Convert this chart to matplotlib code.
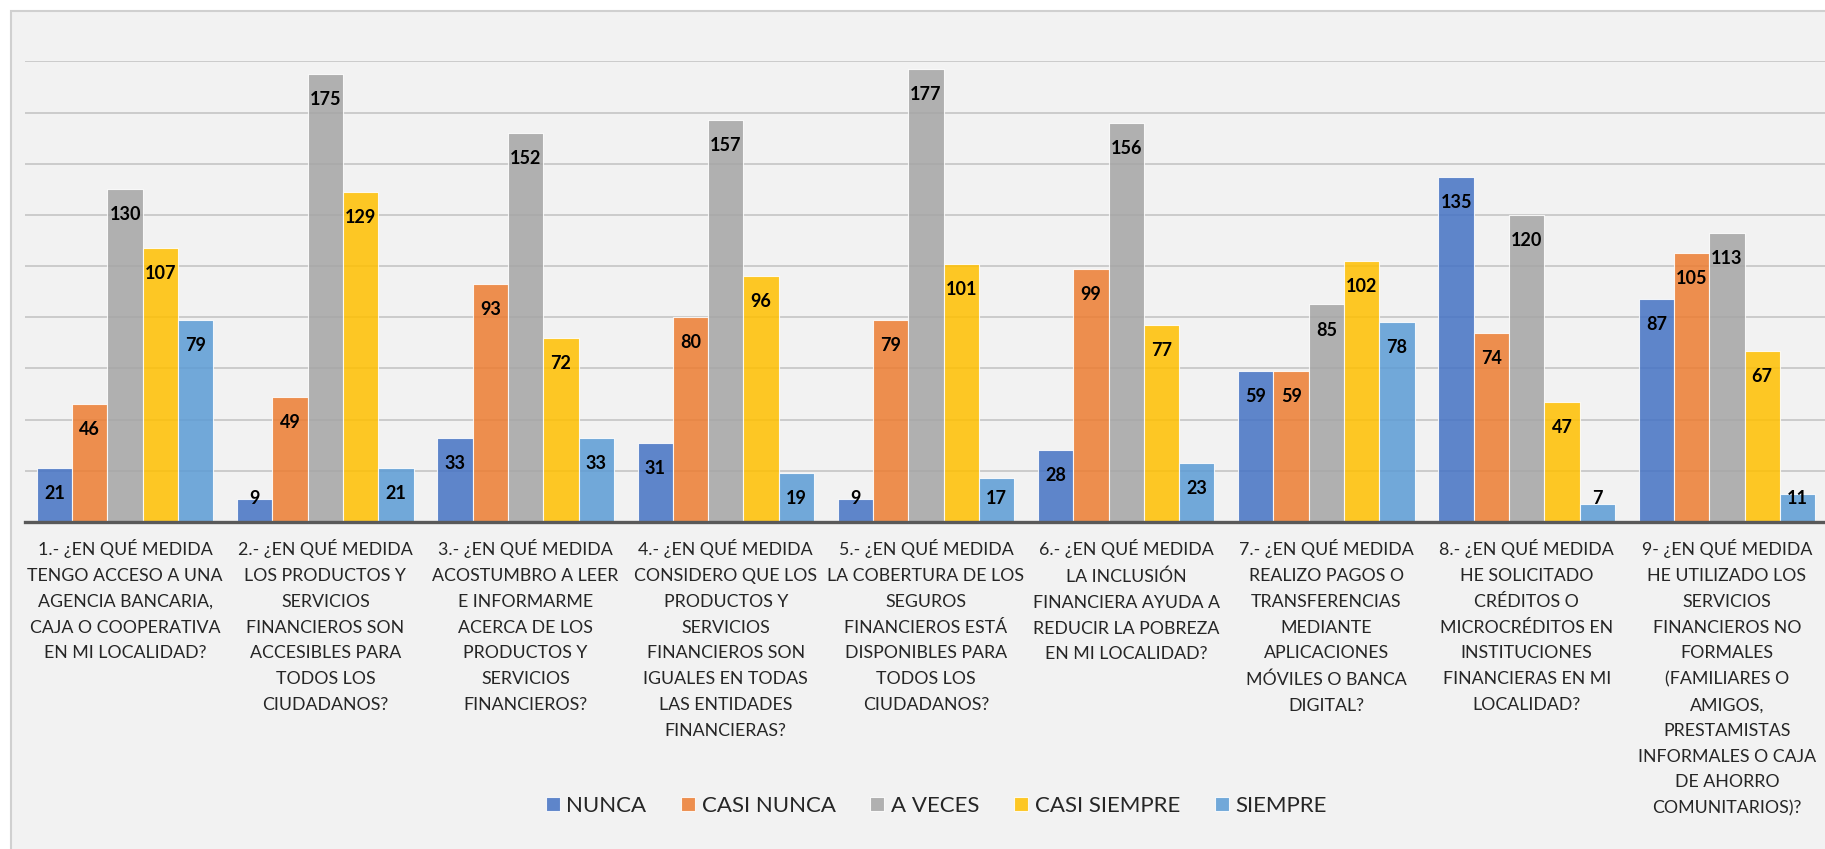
import numpy as np
import matplotlib.pyplot as plt
from matplotlib.patches import Rectangle
from matplotlib.transforms import blended_transform_factory

# categories (axis labels, already wrapped as in the original)
preguntas = [
    '1.- ¿EN QUÉ MEDIDA\nTENGO ACCESO A UNA\nAGENCIA BANCARIA,\nCAJA O COOPERATIVA\nEN MI LOCALIDAD?',
    '2.- ¿EN QUÉ MEDIDA\nLOS PRODUCTOS Y\nSERVICIOS\nFINANCIEROS SON\nACCESIBLES PARA\nTODOS LOS\nCIUDADANOS?',
    '3.- ¿EN QUÉ MEDIDA\nACOSTUMBRO A LEER\nE INFORMARME\nACERCA DE LOS\nPRODUCTOS Y\nSERVICIOS\nFINANCIEROS?',
    '4.- ¿EN QUÉ MEDIDA\nCONSIDERO QUE LOS\nPRODUCTOS Y\nSERVICIOS\nFINANCIEROS SON\nIGUALES EN TODAS\nLAS ENTIDADES\nFINANCIERAS?',
    '5.- ¿EN QUÉ MEDIDA\nLA COBERTURA DE LOS\nSEGUROS\nFINANCIEROS ESTÁ\nDISPONIBLES PARA\nTODOS LOS\nCIUDADANOS?',
    '6.- ¿EN QUÉ MEDIDA\nLA INCLUSIÓN\nFINANCIERA AYUDA A\nREDUCIR LA POBREZA\nEN MI LOCALIDAD?',
    '7.- ¿EN QUÉ MEDIDA\nREALIZO PAGOS O\nTRANSFERENCIAS\nMEDIANTE\nAPLICACIONES\nMÓVILES O BANCA\nDIGITAL?',
    '8.- ¿EN QUÉ MEDIDA\nHE SOLICITADO\nCRÉDITOS O\nMICROCRÉDITOS EN\nINSTITUCIONES\nFINANCIERAS EN MI\nLOCALIDAD?',
    '9- ¿EN QUÉ MEDIDA\nHE UTILIZADO LOS\nSERVICIOS\nFINANCIEROS NO\nFORMALES\n(FAMILIARES O\nAMIGOS,\nPRESTAMISTAS\nINFORMALES O CAJA\nDE AHORRO\nCOMUNITARIOS)?',
]

nunca = [21, 9, 33, 31, 9, 28, 59, 135, 87]
casi_nunca = [46, 49, 93, 80, 79, 99, 59, 74, 105]
a_veces = [130, 175, 152, 157, 177, 156, 85, 120, 113]
casi_siempre = [107, 129, 72, 96, 101, 77, 102, 47, 67]
siempre = [79, 21, 33, 19, 17, 23, 78, 7, 11]

series = ['NUNCA', 'CASI NUNCA', 'A VECES', 'CASI SIEMPRE', 'SIEMPRE']
valores = [nunca, casi_nunca, a_veces, casi_siempre, siempre]
colores = ['#4472C4', '#ED7D31', '#A5A5A5', '#FFC000', '#5B9BD5']

W, H = 1825, 849
fig = plt.figure(figsize=(W / 100, H / 100), dpi=100, facecolor='white')

# chart area frame (cut on the right and bottom like the original)
fig.patches.append(Rectangle((11 / W, -0.05), 1.1, 1 - 11 / H + 0.05, transform=fig.transFigure,
                             facecolor='#F2F2F2', edgecolor='#D0D0D0', lw=1.5, zorder=-10))

ax = fig.add_axes([25 / W, 1 - 522 / H, 1802 / W, (522 - 61.4) / H])
ax.set_facecolor('none')

x = np.arange(len(preguntas))
w = 0.1763
for j, (nombre, vals, col) in enumerate(zip(series, valores, colores)):
    pos = x + (j - 2) * w
    ax.bar(pos, vals, width=w, color=col, alpha=0.85, edgecolor='white', linewidth=0.8,
           label=nombre, zorder=2)
    for xp, v in zip(pos, vals):
        ax.text(xp, max(v - 10, 9.3), str(v), ha='center', va='center', fontsize=13,
                fontweight='bold', family='Lato', color='black', zorder=3)

ax.set_xlim(-0.5, 8.5)
ax.set_ylim(0, 180)
ax.set_yticks(np.arange(20, 181, 20))
ax.yaxis.grid(True, color='#C8C8C8', lw=1.3)
ax.set_axisbelow(True)
ax.tick_params(left=False, labelleft=False, bottom=False, labelbottom=False)
for s in ['top', 'right', 'left']:
    ax.spines[s].set_visible(False)
ax.spines['bottom'].set_color('#595959')
ax.spines['bottom'].set_linewidth(2.4)
ax.spines['bottom'].set_zorder(4)

# category labels under the axis
trans = blended_transform_factory(ax.transData, fig.transFigure)
for xi, txt in zip(x, preguntas):
    ax.text(xi, 1 - 539.5 / H, txt, transform=trans, ha='center', va='top', fontsize=12.8,
            family='Lato', color='#262626', linespacing=1.75)

fig.legend(loc='center', bbox_to_anchor=(936.2 / W, 1 - 806 / H), ncol=5, frameon=False,
           prop={'family': 'Lato', 'size': 16}, labelcolor='#262626',
           handlelength=0.63, handleheight=0.63, handletextpad=0.3, columnspacing=1.56)

fig.savefig('out.png', dpi=100, facecolor='white')
